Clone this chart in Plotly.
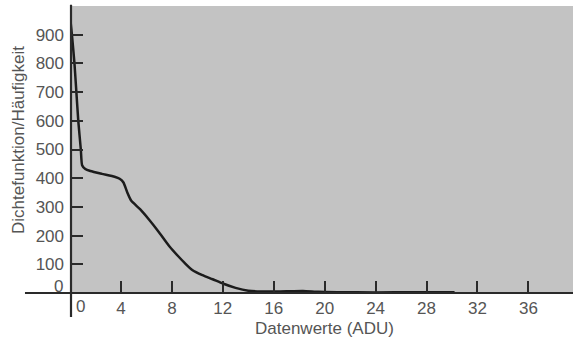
import plotly.graph_objects as go

# Data
x_vals = [0, 0.15, 0.35, 0.5, 0.65, 0.85, 0.95, 1.2, 1.6, 2.5, 3.5, 3.9, 4.2, 4.5, 4.8,
          5.5, 6.2, 7.0, 7.8, 8.5, 9.0, 9.6, 10.4, 11.2, 12.0, 13.0, 14.0, 15.0,
          16.0, 17.0, 18.3, 19.5, 21.0, 24.0, 27.0, 30.2]
y_vals = [965, 900, 800, 700, 600, 500, 445, 432, 425, 415, 405, 398, 385, 350, 322,
          292, 256, 211, 163, 128, 105, 80, 62, 48, 33, 18, 8, 5,
          5, 6, 7, 4, 3, 2, 3, 3]

x_ticks = [4, 8, 12, 16, 20, 24, 28, 32, 36]
y_ticks = [100, 200, 300, 400, 500, 600, 700, 800, 900]

x_title = "Datenwerte (ADU)"
y_title = "Dichtefunktion/Häufigkeit"

FONT = "Liberation Sans, Arial, sans-serif"
TXT = "#555555"
AX = "#2a2a2a"

fig = go.Figure()
fig.add_trace(go.Scatter(
    x=x_vals, y=y_vals, mode="lines",
    line=dict(color="#1c1c1c", width=2.5, shape="spline", smoothing=0.5),
    showlegend=False, hoverinfo="skip",
))

fig.update_layout(
    width=574, height=340,
    margin=dict(l=70, r=1, t=6, b=47),
    paper_bgcolor="white",
    plot_bgcolor="#c3c3c3",
    font=dict(family=FONT, size=17, color=TXT),
    xaxis=dict(
        range=[0, 39.5], tickvals=x_ticks, ticktext=[str(v) for v in x_ticks],
        ticks="inside", ticklen=12, tickwidth=2, tickcolor=AX,
        showgrid=False, zeroline=False, showline=False,
        tickfont=dict(size=17, color=TXT), ticklabelstandoff=3,
    ),
    yaxis=dict(
        range=[0, 1000], tickvals=y_ticks, ticktext=[str(v) for v in y_ticks],
        ticks="inside", ticklen=13, tickwidth=2, tickcolor=AX,
        showgrid=False, zeroline=False, showline=False,
        tickfont=dict(size=17, color=TXT), ticklabelstandoff=5,
    ),
)

# axis lines extending past each other (crosshair style)
fig.add_shape(type="line", xref="paper", yref="paper",
              x0=0.002, x1=0.002, y0=-0.0836, y1=1.004,
              line=dict(color=AX, width=2.2))
fig.add_shape(type="line", xref="paper", yref="paper",
              x0=-0.0895, x1=1.0, y0=0, y1=0,
              line=dict(color=AX, width=2.2))

# "0" labels
fig.add_annotation(text="0", xref="paper", x=-0.0099, xanchor="right",
                   yref="y", y=0, yshift=7, yanchor="middle", showarrow=False,
                   font=dict(size=17, color=TXT))
fig.add_annotation(text="0", xref="x", x=0, xshift=10, xanchor="center",
                   yref="paper", y=-0.0477, yanchor="middle", showarrow=False,
                   font=dict(size=17, color=TXT))

# axis titles
fig.add_annotation(text=x_title, xref="paper", x=0.505, xanchor="center",
                   yref="paper", y=-0.122, yanchor="middle", showarrow=False,
                   font=dict(size=17, color=TXT))
fig.add_annotation(text=y_title, xref="paper", x=-0.1034, xanchor="center",
                   yref="paper", y=0.533, yanchor="middle", textangle=-90,
                   showarrow=False, font=dict(size=17, color=TXT))

fig.write_html("out.html")
